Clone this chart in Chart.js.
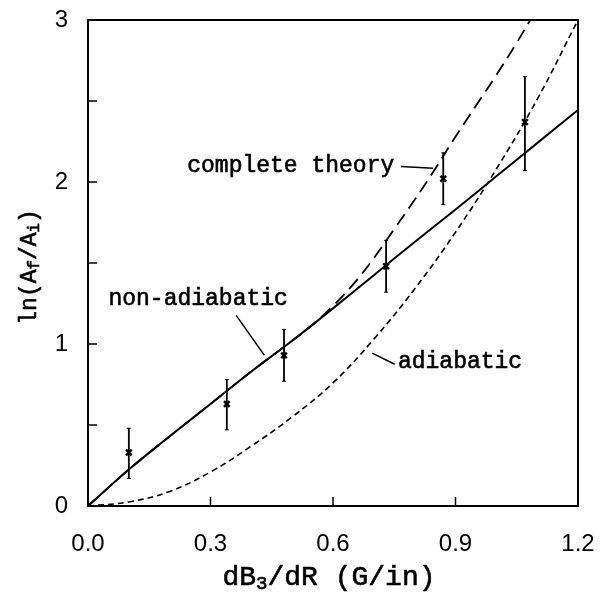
<!DOCTYPE html>
<html>
<head>
<meta charset="utf-8">
<script src="https://cdn.jsdelivr.net/npm/chart.js@4.4.1/dist/chart.umd.min.js"></script>
<style>
  html, body { margin: 0; padding: 0; background: #fff; }
  #wrap { width: 602px; height: 592px; }
</style>
</head>
<body>
<div id="wrap"><canvas id="chart" width="602" height="592"></canvas></div>
<script>
// measured points with error bars
const dataX = [0.10, 0.34, 0.48, 0.73, 0.87, 1.07]
const dataY = [0.33, 0.63, 0.93, 1.48, 2.02, 2.37]
const errLow = [0.17, 0.47, 0.77, 1.32, 1.86, 2.07]
const errHigh = [0.48, 0.78, 1.09, 1.64, 2.18, 2.65]

// theory curves
const curveX = [0, 0.1, 0.2, 0.3, 0.4, 0.5, 0.6, 0.7, 0.8, 0.9, 1.0, 1.1, 1.2]
const nonAdiabatic = [0, 0.225, 0.43, 0.63, 0.83, 1.02, 1.22, 1.425, 1.63, 1.83, 2.035, 2.24, 2.445]
const adiabatic = [0, 0.025, 0.09, 0.21, 0.37, 0.55, 0.76, 1.03, 1.34, 1.69, 2.08, 2.51, 3.0]
const completeX = [0, 0.1, 0.2, 0.3, 0.4, 0.5, 0.55, 0.6, 0.65, 0.7, 0.75, 0.8, 0.85, 0.9, 0.95, 1.0, 1.05, 1.083]
const complete = [0, 0.225, 0.43, 0.63, 0.83, 1.02, 1.12, 1.235, 1.37, 1.53, 1.71, 1.89, 2.08, 2.28, 2.47, 2.66, 2.86, 3.0]

// labels
const xTitle = [{ t: 'dB' }, { t: '3', sub: true }, { t: '/dR (G/in)' }]
const yTitle = [{ t: 'ln(A' }, { t: 'f', sub: true }, { t: '/A' }, { t: 'i', sub: true }, { t: ')' }]
const notes = [
  { text: 'complete theory', at: [0.243, 2.10], from: [0.766, 2.095], to: [0.845, 2.085] },
  { text: 'non-adiabatic', at: [0.05, 1.28], from: [0.363, 1.177], to: [0.432, 0.93] },
  { text: 'adiabatic', at: [0.759, 0.887], from: [0.696, 0.944], to: [0.751, 0.875] }
]

const toXY = (xs, ys) => xs.map((x, i) => ({ x: x, y: ys[i] }))

const monoFont = '"Liberation Mono", "DejaVu Sans Mono", monospace'

function drawRich(ctx, parts, x, y, size) {
  // measure first so the whole string can be centred
  let w = 0
  parts.forEach(p => {
    ctx.font = (p.sub ? size * 0.68 : size) + 'px ' + monoFont
    w += ctx.measureText(p.t).width
  })
  let cx = x - w / 2
  parts.forEach(p => {
    ctx.font = (p.sub ? size * 0.68 : size) + 'px ' + monoFont
    ctx.fillText(p.t, cx, p.sub ? y + size * 0.22 : y)
    ctx.strokeText(p.t, cx, p.sub ? y + size * 0.22 : y)
    cx += ctx.measureText(p.t).width
  })
}

const decorations = {
  id: 'decorations',
  afterDatasetsDraw(chart) {
    const ctx = chart.ctx
    const xs = chart.scales.x
    const ys = chart.scales.y
    const a = chart.chartArea
    ctx.save()
    ctx.strokeStyle = '#000'
    ctx.fillStyle = '#000'

    // frame
    ctx.lineWidth = 2
    ctx.strokeRect(a.left, a.top, a.right - a.left, a.bottom - a.top)

    // inward ticks
    ctx.lineWidth = 1.5
    ctx.beginPath()
    xs.ticks.forEach(t => {
      if (t.value <= 0 || t.value >= 1.2) return
      const px = xs.getPixelForValue(t.value)
      ctx.moveTo(px, a.bottom)
      ctx.lineTo(px, a.bottom - 9)
    })
    ys.ticks.forEach(t => {
      if (t.value <= 0 || t.value >= 3) return
      const py = ys.getPixelForValue(t.value)
      ctx.moveTo(a.left, py)
      ctx.lineTo(a.left + 9, py)
    })
    ctx.stroke()

    // error bars
    ctx.lineWidth = 1.8
    dataX.forEach((x, i) => {
      const px = xs.getPixelForValue(x)
      const lo = ys.getPixelForValue(errLow[i])
      const hi = ys.getPixelForValue(errHigh[i])
      ctx.beginPath()
      ctx.moveTo(px, lo)
      ctx.lineTo(px, hi)
      ctx.stroke()
      ctx.lineWidth = 1
      ctx.beginPath()
      ctx.moveTo(px - 2, lo); ctx.lineTo(px + 2, lo)
      ctx.moveTo(px - 2, hi); ctx.lineTo(px + 2, hi)
      ctx.stroke()
      ctx.lineWidth = 1.8
    })

    // annotations (a thin stroke thickens the typewriter glyphs)
    ctx.font = '23px ' + monoFont
    ctx.textBaseline = 'middle'
    ctx.textAlign = 'left'
    notes.forEach(n => {
      ctx.lineWidth = 0.6
      ctx.fillText(n.text, xs.getPixelForValue(n.at[0]), ys.getPixelForValue(n.at[1]))
      ctx.strokeText(n.text, xs.getPixelForValue(n.at[0]), ys.getPixelForValue(n.at[1]))
      ctx.lineWidth = 1.5
      ctx.beginPath()
      ctx.moveTo(xs.getPixelForValue(n.from[0]), ys.getPixelForValue(n.from[1]))
      ctx.lineTo(xs.getPixelForValue(n.to[0]), ys.getPixelForValue(n.to[1]))
      ctx.stroke()
    })

    // axis titles
    ctx.textAlign = 'left'
    ctx.lineWidth = 0.6
    drawRich(ctx, xTitle, (a.left + a.right) / 2 - 4, 578, 28)
    ctx.translate(30, (a.top + a.bottom) / 2 + 4)
    ctx.rotate(-Math.PI / 2)
    drawRich(ctx, yTitle, 0, 0, 23)
    ctx.restore()
  }
}

const ctx = document.getElementById('chart')
new Chart(ctx, {
  type: 'scatter',
  data: {
    datasets: [
      {
        label: 'non-adiabatic',
        type: 'line',
        data: toXY(curveX, nonAdiabatic),
        borderColor: '#000',
        borderWidth: 2,
        pointRadius: 0,
        tension: 0.4
      },
      {
        label: 'complete theory',
        type: 'line',
        data: toXY(completeX, complete),
        borderColor: '#000',
        borderWidth: 1.8,
        borderDash: [13, 7],
        pointRadius: 0,
        tension: 0.4
      },
      {
        label: 'adiabatic',
        type: 'line',
        data: toXY(curveX, adiabatic),
        borderColor: '#000',
        borderWidth: 1.6,
        borderDash: [6, 4],
        pointRadius: 0,
        tension: 0.4
      },
      {
        label: 'data',
        data: toXY(dataX, dataY),
        pointStyle: 'crossRot',
        pointRadius: 4,
        borderColor: '#000',
        borderWidth: 2.5
      }
    ]
  },
  options: {
    responsive: false,
    animation: false,
    layout: { padding: { top: 20, right: 24, left: 0, bottom: 0 } },
    plugins: {
      legend: { display: false },
      tooltip: { enabled: false }
    },
    scales: {
      x: {
        type: 'linear',
        min: 0,
        max: 1.2,
        afterFit: s => {
          s.height = 86
          s.paddingLeft = 0
          s.paddingRight = 0
        },
        ticks: {
          stepSize: 0.3,
          padding: 24,
          color: '#000',
          font: { family: '"Liberation Sans", Arial, sans-serif', size: 24 },
          callback: v => v.toFixed(1)
        },
        grid: { display: false, drawTicks: false },
        border: { display: false }
      },
      y: {
        min: 0,
        max: 3,
        afterFit: s => {
          s.width = 88
          s.paddingTop = 0
          s.paddingBottom = 0
        },
        ticks: {
          stepSize: 0.5,
          padding: 20,
          color: '#000',
          font: { family: '"Liberation Sans", Arial, sans-serif', size: 24 },
          callback: v => Number.isInteger(v) ? String(v) : ''
        },
        grid: { display: false, drawTicks: false },
        border: { display: false }
      }
    }
  },
  plugins: [decorations]
})
</script>
</body>
</html>
